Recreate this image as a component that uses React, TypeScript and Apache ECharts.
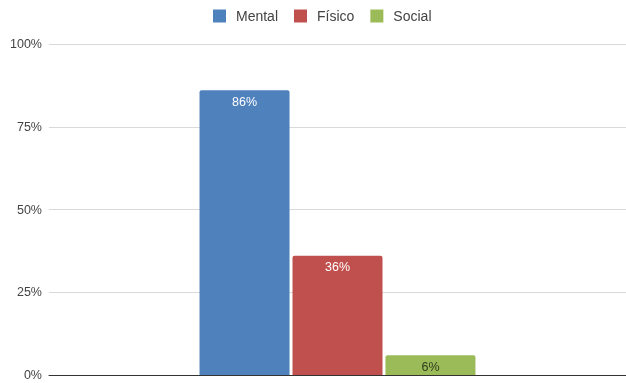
import React, { useEffect, useRef } from "react";
import * as echarts from "echarts";

const categories = [""];
const seriesNames = ["Mental", "Físico", "Social"];
const mentalValues = [86];
const fisicoValues = [36];
const socialValues = [6];
const colors = ["#4f81bd", "#c0504d", "#9bbb59"];
const labelColors = ["#ffffff", "#ffffff", "#2f3a1c"];

export default function App() {
  const ref = useRef<HTMLDivElement>(null);
  useEffect(() => {
    if (!ref.current) return;
    const chart = echarts.init(ref.current, null, { renderer: "svg" });
    const values = [mentalValues, fisicoValues, socialValues];
    chart.setOption({
      animation: false,
      textStyle: { fontFamily: "Liberation Sans, Arial, sans-serif" },
      legend: {
        top: 4,
        left: 208,
        itemWidth: 13,
        itemHeight: 13,
        itemGap: 16,
        icon: "rect",
        textStyle: { fontSize: 14, color: "#444", padding: [0, 0, 0, 5] },
        data: seriesNames,
      },
      grid: { left: 49, right: 0, top: 44, bottom: 8, containLabel: false },
      xAxis: {
        type: "category",
        data: categories,
        axisTick: { show: false },
        axisLabel: { show: false },
        axisLine: { lineStyle: { color: "#333", width: 1 } },
      },
      yAxis: {
        type: "value",
        min: 0,
        max: 1,
        interval: 0.25,
        axisLine: { show: false },
        axisTick: { show: false },
        axisLabel: {
          formatter: (v: number) => Math.round(v * 100) + "%",
          color: "#444",
          fontSize: 12.5,
          margin: 7,
        },
        splitLine: { lineStyle: { color: "#d9d9d9" } },
      },
      series: seriesNames.map((name, i) => ({
        name,
        type: "bar",
        data: values[i].map((v) => v / 100),
        barWidth: 90,
        barGap: "3.3%",
        itemStyle: { color: colors[i], borderRadius: [2, 2, 0, 0] },
        label: {
          show: true,
          position: "insideTop",
          distance: 5,
          color: labelColors[i],
          fontSize: 12.5,
          formatter: (p: any) => Math.round(p.value * 100) + "%",
        },
      })),
    });
    return () => chart.dispose();
  }, []);
  return (
    <div
      ref={ref}
      style={{ position: "fixed", left: 0, top: 0, width: 626, height: 383 }}
    />
  );
}
